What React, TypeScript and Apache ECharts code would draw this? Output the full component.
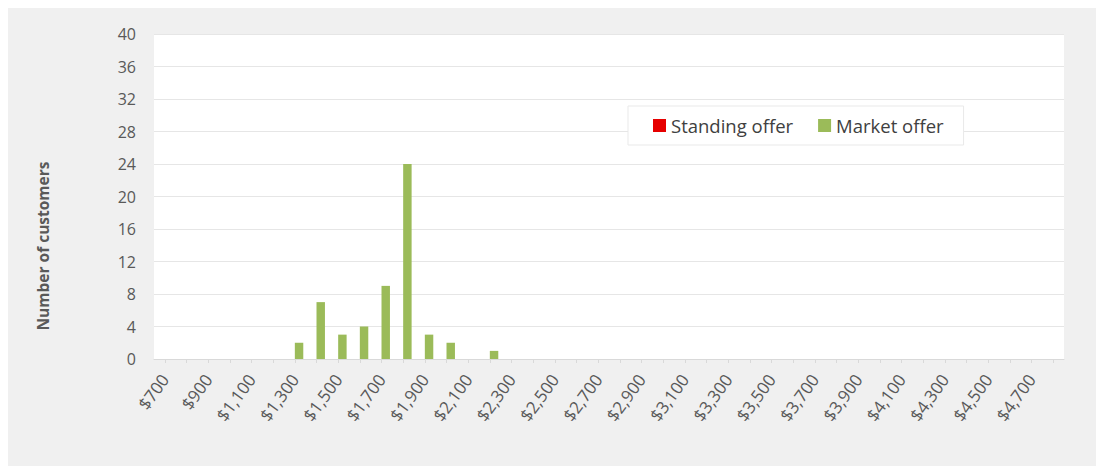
import React, { useEffect, useRef } from "react";
import * as echarts from "echarts";

// Annual bill bands (category axis)
const categories = [
  "$700", "$800", "$900", "$1,000", "$1,100", "$1,200", "$1,300", "$1,400",
  "$1,500", "$1,600", "$1,700", "$1,800", "$1,900", "$2,000", "$2,100", "$2,200",
  "$2,300", "$2,400", "$2,500", "$2,600", "$2,700", "$2,800", "$2,900", "$3,000",
  "$3,100", "$3,200", "$3,300", "$3,400", "$3,500", "$3,600", "$3,700", "$3,800",
  "$3,900", "$4,000", "$4,100", "$4,200", "$4,300", "$4,400", "$4,500", "$4,600",
  "$4,700", "$4,800",
];

// Number of customers per band
const standingOffer = [
  0, 0, 0, 0, 0, 0, 0, 0, 0, 0, 0, 0, 0, 0, 0, 0, 0, 0, 0, 0, 0,
  0, 0, 0, 0, 0, 0, 0, 0, 0, 0, 0, 0, 0, 0, 0, 0, 0, 0, 0, 0, 0,
];
const marketOffer = [
  0, 0, 0, 0, 0, 0, 2, 7, 3, 4, 9, 24, 3, 2, 0, 1, 0, 0, 0, 0, 0,
  0, 0, 0, 0, 0, 0, 0, 0, 0, 0, 0, 0, 0, 0, 0, 0, 0, 0, 0, 0, 0,
];

const yMin = 0;
const yMax = 40;
const yStep = 4;

const FONT = "'Open Sans', 'Noto Sans', sans-serif";
const LABEL_GREY = "#595959";

export default function App() {
  const ref = useRef<HTMLDivElement>(null);

  useEffect(() => {
    if (!ref.current) return;
    const chart = echarts.init(ref.current, undefined, { renderer: "svg" });
    chart.setOption({
      animation: false,
      backgroundColor: "#f0f0f0",
      textStyle: { fontFamily: FONT },
      grid: {
        left: 146,
        right: 32,
        top: 26,
        bottom: 107,
        show: true,
        backgroundColor: "#ffffff",
        borderWidth: 0,
      },
      legend: {
        left: 620,
        top: 98,
        icon: "rect",
        itemWidth: 13,
        itemHeight: 13,
        itemGap: 25,
        backgroundColor: "#ffffff",
        borderColor: "#e9e9e9",
        borderWidth: 1,
        padding: [10, 20, 10, 25],
        textStyle: { fontFamily: FONT, fontSize: 18.5, color: "#404040" },
        data: ["Standing offer", "Market offer"],
      },
      xAxis: {
        type: "category",
        data: categories,
        axisLine: { lineStyle: { color: "#d9d9d9" } },
        axisTick: {
          show: true,
          alignWithLabel: true,
          interval: 0,
          length: 4,
          lineStyle: { color: "#d9d9d9" },
        },
        axisLabel: {
          interval: 1,
          rotate: 54,
          margin: 17,
          fontFamily: FONT,
          fontSize: 17,
          color: LABEL_GREY,
        },
      },
      yAxis: {
        type: "value",
        min: yMin,
        max: yMax,
        interval: yStep,
        axisLine: { show: false },
        axisTick: { show: false },
        splitLine: { lineStyle: { color: "#e6e6e6" } },
        axisLabel: {
          margin: 18,
          fontFamily: FONT,
          fontSize: 16,
          color: LABEL_GREY,
        },
      },
      graphic: [
        {
          type: "text",
          x: 35,
          y: 238,
          rotation: Math.PI / 2,
          style: {
            text: "Number of customers",
            fontFamily: FONT,
            fontSize: 15.5,
            fontWeight: "bold",
            fill: LABEL_GREY,
            align: "center",
            verticalAlign: "middle",
          },
        },
      ],
      series: [
        {
          name: "Standing offer",
          type: "bar",
          data: standingOffer,
          itemStyle: { color: "#e60000" },
          barGap: "0%",
          barCategoryGap: "22%",
        },
        {
          name: "Market offer",
          type: "bar",
          data: marketOffer,
          itemStyle: { color: "#9bbb59" },
          barGap: "0%",
          barCategoryGap: "22%",
        },
      ],
    });
    return () => chart.dispose();
  }, []);

  return (
    <div
      style={{
        position: "fixed",
        left: 0,
        top: 0,
        width: 1096,
        height: 466,
        background: "#ffffff",
      }}
    >
      <div
        ref={ref}
        style={{ position: "absolute", left: 8, top: 8, width: 1088, height: 458 }}
      />
    </div>
  );
}
